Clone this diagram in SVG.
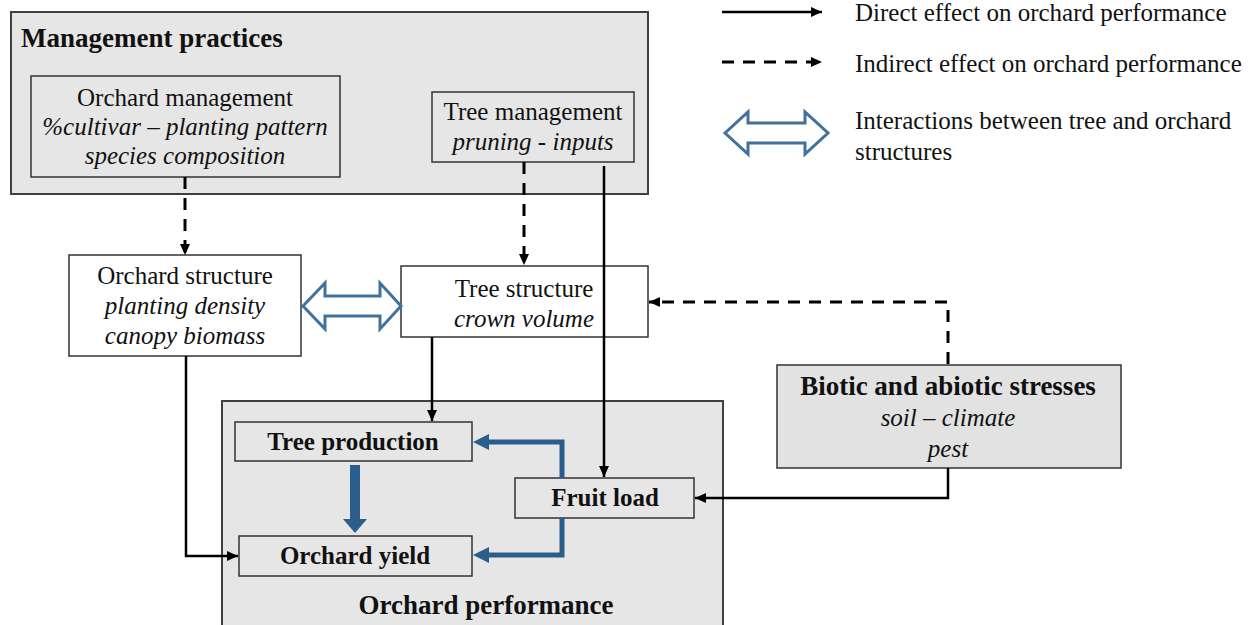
<svg xmlns="http://www.w3.org/2000/svg" width="1250" height="625" viewBox="0 0 1250 625">
<defs>
<style>
.t{font-family:"Liberation Serif","Times New Roman",serif;font-size:25px;fill:#111;}
.i{font-style:italic;}
.b{font-weight:bold;}
.h{font-size:27px;}
.c{text-anchor:middle;}
.grp{fill:#E7E6E6;stroke:#404040;stroke-width:2;}
.gbox{fill:#E7E6E6;stroke:#333;stroke-width:1.5;}
.wbox{fill:#fff;stroke:#333;stroke-width:1.5;}
.sol{fill:none;stroke:#000;stroke-width:2.5;marker-end:url(#ah);}
.dash{fill:none;stroke:#000;stroke-width:3;stroke-dasharray:12,9;marker-end:url(#ah);}
.blue{fill:none;stroke:#2B5E8C;stroke-width:5;}
.bfill{fill:#2B5E8C;}
.dbl{fill:#fff;stroke:#41719C;stroke-width:3;stroke-linejoin:miter;}
</style>
<marker id="ah" markerWidth="11" markerHeight="10" refX="11" refY="5" orient="auto" markerUnits="userSpaceOnUse">
<path d="M0,0 L11,5 L0,10 z" fill="#000"/>
</marker>
</defs>
<rect width="1250" height="625" fill="#fff"/>

<g id="management-practices">
<rect class="grp" x="11" y="12" width="637" height="182"/>
<text class="t b h" x="21" y="47">Management practices</text>
</g>

<g id="orchard-management">
<rect class="gbox" x="31" y="76" width="309" height="101"/>
<text class="t c" x="185" y="106">Orchard management</text>
<text class="t c i" x="185" y="135">%cultivar – planting pattern</text>
<text class="t c i" x="185" y="164">species composition</text>
</g>

<g id="tree-management">
<rect class="gbox" x="432" y="92" width="202" height="70"/>
<text class="t c" x="533" y="120">Tree management</text>
<text class="t c i" x="533" y="150">pruning - inputs</text>
</g>

<g id="orchard-performance">
<rect class="grp" x="222" y="401" width="501" height="230"/>
<text class="t b h c" x="486" y="614">Orchard performance</text>
</g>

<g id="orchard-structure">
<rect class="wbox" x="69" y="255" width="232" height="101"/>
<text class="t c" x="185" y="284">Orchard structure</text>
<text class="t c i" x="185" y="314">planting density</text>
<text class="t c i" x="185" y="344">canopy biomass</text>
</g>

<g id="tree-structure">
<rect class="wbox" x="401" y="266" width="247" height="71"/>
<text class="t c" x="524" y="297">Tree structure</text>
<text class="t c i" x="524" y="327">crown volume</text>
</g>

<g id="stresses">
<rect class="gbox" x="777" y="365" width="344" height="103" style="fill:#E2E2E2"/>
<text class="t b h c" x="948" y="395">Biotic and abiotic stresses</text>
<text class="t c i" x="948" y="426">soil – climate</text>
<text class="t c i" x="948" y="457">pest</text>
</g>

<g id="tree-production">
<rect class="gbox" x="235" y="422" width="237" height="39"/>
<text class="t b c" x="353" y="450">Tree production</text>
</g>

<g id="fruit-load">
<rect class="gbox" x="515" y="478" width="179" height="40"/>
<text class="t b c" x="605" y="506">Fruit load</text>
</g>

<g id="orchard-yield">
<rect class="gbox" x="239" y="536" width="233" height="40"/>
<text class="t b c" x="355" y="564">Orchard yield</text>
</g>

<g id="connectors">
<path class="dash" d="M185,177 V255"/>
<path class="dash" d="M524,162 V265"/>
<path class="sol" d="M604,166 V477"/>
<path class="sol" d="M432,337 V421"/>
<path class="sol" d="M186,356 V556 H238"/>
<path class="sol" d="M948,468 V498 H695"/>
<path class="dash" d="M948,364 V302 H649"/>
<polygon class="dbl" points="303,306 325,283 325,296 380,296 380,283 401,306 380,329 380,316 325,316 325,329"/>
<polygon class="bfill" points="350,465 360,465 360,519 367,519 355,533 343,519 350,519"/>
<path class="blue" d="M562,478 V442 H486"/>
<polygon class="bfill" points="473,442 489,434 489,450"/>
<path class="blue" d="M562,518 V555 H486"/>
<polygon class="bfill" points="473,555 489,547 489,563"/>
</g>

<g id="legend">
<path class="sol" d="M722,12 H822"/>
<text class="t" x="855" y="21">Direct effect on orchard performance</text>
<path class="dash" d="M722,62 H822"/>
<text class="t" x="855" y="72">Indirect effect on orchard performance</text>
<polygon class="dbl" points="725,133 748,112 748,123 805,123 805,112 828,133 805,154 805,143 748,143 748,154"/>
<text class="t" x="855" y="129">Interactions between tree and orchard</text>
<text class="t" x="855" y="160">structures</text>
</g>
</svg>
